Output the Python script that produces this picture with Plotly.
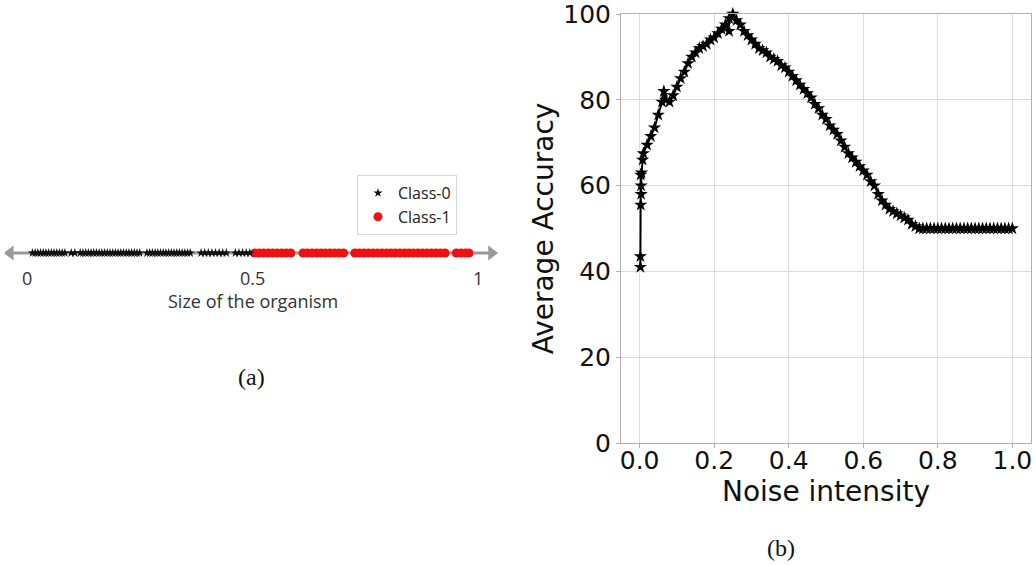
import plotly.graph_objects as go

# ---------------- data ----------------
# Panel (a): 1-D samples on the "size of the organism" axis
class0_size = [0.012, 0.018, 0.024, 0.03, 0.036, 0.042, 0.048, 0.054, 0.06, 0.066,
               0.072, 0.078, 0.084, 0.098, 0.106, 0.118, 0.124, 0.13, 0.136, 0.142,
               0.148, 0.154, 0.16, 0.166, 0.172, 0.178, 0.184, 0.19, 0.196, 0.202,
               0.208, 0.214, 0.22, 0.226, 0.232, 0.238, 0.244, 0.25,
               0.266, 0.272, 0.278, 0.284, 0.29, 0.296, 0.302, 0.308, 0.314, 0.32,
               0.326, 0.332, 0.338, 0.344, 0.35, 0.356, 0.362,
               0.386, 0.394, 0.402, 0.41, 0.418, 0.426, 0.434, 0.442,
               0.462, 0.47, 0.478, 0.486, 0.494]
class1_size = [0.505, 0.515, 0.525, 0.535, 0.545, 0.555, 0.565, 0.575, 0.585,
               0.612, 0.622, 0.632, 0.642, 0.652, 0.662, 0.672, 0.682, 0.692, 0.702,
               0.727, 0.737, 0.747, 0.757, 0.767, 0.777, 0.787, 0.797, 0.807, 0.817,
               0.827, 0.837, 0.847, 0.857, 0.867, 0.877, 0.887, 0.897, 0.907, 0.917,
               0.927, 0.952, 0.962, 0.972, 0.98]
axis_a_ticks = [0, 0.5, 1]
axis_a_ticklabels = ["0", "0.5", "1"]

# Panel (b): noise intensity vs average accuracy
noise = [0.002, 0.002, 0.003, 0.003, 0.004, 0.004, 0.005, 0.008,
         0.01, 0.02, 0.03, 0.04, 0.05, 0.06, 0.065, 0.07, 0.08, 0.09,
         0.10, 0.11, 0.12, 0.13, 0.14, 0.15, 0.16, 0.17, 0.18, 0.19,
         0.20, 0.21, 0.22, 0.23, 0.24, 0.24, 0.25, 0.26, 0.27, 0.28, 0.29,
         0.30, 0.31, 0.32, 0.33, 0.34, 0.35, 0.36, 0.37, 0.38, 0.39,
         0.40, 0.41, 0.42, 0.43, 0.44, 0.45, 0.46, 0.47, 0.48, 0.49,
         0.50, 0.51, 0.52, 0.53, 0.54, 0.55, 0.56, 0.57, 0.58, 0.59,
         0.60, 0.61, 0.62, 0.63, 0.64, 0.65, 0.66, 0.67, 0.68, 0.69,
         0.70, 0.71, 0.72, 0.73, 0.74, 0.75, 0.76, 0.77, 0.78, 0.79,
         0.80, 0.81, 0.82, 0.83, 0.84, 0.85, 0.86, 0.87, 0.88, 0.89,
         0.90, 0.91, 0.92, 0.93, 0.94, 0.95, 0.96, 0.97, 0.98, 0.99, 1.00]
accuracy = [41.0, 43.5, 62.5, 55.5, 58.0, 60.0, 63.0, 66.0,
            67.5, 69.5, 71.5, 73.5, 76.5, 79.5, 82.0, 80.0, 79.5, 81.0,
            83.0, 85.0, 86.5, 88.5, 90.0, 91.0, 92.0, 92.5, 93.0, 94.0,
            94.5, 95.5, 96.5, 97.5, 96.0, 99.0, 100.0, 98.5, 97.5, 96.0, 95.0,
            94.0, 93.0, 92.0, 91.5, 91.0, 90.0, 89.5, 89.0, 88.0, 87.5,
            86.5, 85.5, 84.5, 83.5, 82.5, 81.5, 80.5, 79.0, 78.0, 76.5,
            75.5, 74.0, 73.0, 72.0, 70.5, 69.0, 67.5, 66.5, 65.5, 64.5,
            63.5, 62.5, 61.0, 60.0, 58.0, 56.5, 55.5, 54.5, 54.0, 53.5,
            53.0, 52.5, 52.0, 51.0, 50.5, 50.0, 50.0, 50.0, 50.0, 50.0,
            50.0, 50.0, 50.0, 50.0, 50.0, 50.0, 50.0, 50.0, 50.0, 50.0,
            50.0, 50.0, 50.0, 50.0, 50.0, 50.0, 50.0, 50.0, 50.0, 50.0, 50.0]
b_xticks = [0.0, 0.2, 0.4, 0.6, 0.8, 1.0]
b_yticks = [0, 20, 40, 60, 80, 100]

# ---------------- figure ----------------
W, H = 1036, 565
def px(x): return x / W
def py(y): return 1 - y / H

fig = go.Figure()

# panel (a) arrow axis
arrow_ends = [-0.037, 1.03]
fig.add_trace(go.Scatter(x=arrow_ends, y=[0, 0], mode="lines",
                         line=dict(color="#9a9a9a", width=3),
                         xaxis="x2", yaxis="y2", showlegend=False, hoverinfo="skip"))
fig.add_trace(go.Scatter(x=arrow_ends, y=[0, 0], mode="markers",
                         marker=dict(symbol=["triangle-left", "triangle-right"], size=13,
                                     color="#9a9a9a"),
                         xaxis="x2", yaxis="y2", showlegend=False, hoverinfo="skip"))
fig.add_trace(go.Scatter(x=class1_size, y=[0] * len(class1_size), mode="markers",
                         marker=dict(symbol="circle", size=9, color="#ee1111"),
                         name="Class-1", xaxis="x2", yaxis="y2", legendrank=2))
fig.add_trace(go.Scatter(x=class0_size, y=[0] * len(class0_size), mode="markers",
                         marker=dict(symbol="star", size=7, color="#111111"),
                         name="Class-0", xaxis="x2", yaxis="y2", legendrank=1))

# panel (b)
fig.add_trace(go.Scatter(x=noise, y=accuracy, mode="lines+markers",
                         line=dict(color="black", width=2),
                         marker=dict(symbol="star", size=10, color="black"),
                         showlegend=False, xaxis="x", yaxis="y", cliponaxis=False))

fig.update_layout(
    width=W, height=H,
    margin=dict(l=0, r=0, t=0, b=0),
    paper_bgcolor="white", plot_bgcolor="white",
    font=dict(family="DejaVu Sans", color="#111"),
    xaxis=dict(domain=[px(621), px(1031)], range=[-0.05, 1.05], automargin=False,
               tickvals=b_xticks, ticktext=[f"{v:.1f}" for v in b_xticks],
               tickfont=dict(size=25, color="#111"), ticklabeloverflow="allow",
               ticklabelstandoff=-9,
               showgrid=True, gridcolor="#dcdcdc", gridwidth=1,
               showline=True, linecolor="#b0b0b0", linewidth=1, mirror=True,
               ticks="outside", ticklen=4, tickcolor="#b0b0b0",
               zeroline=False, anchor="y",
               title=dict(text="Noise intensity", font=dict(size=28, color="#111"),
                          standoff=0)),
    yaxis=dict(domain=[py(443), py(14)], range=[0, 100], automargin=False,
               tickvals=b_yticks, ticklabeloverflow="allow",
               tickfont=dict(size=25, color="#111"),
               showgrid=True, gridcolor="#dcdcdc", gridwidth=1,
               showline=True, linecolor="#b0b0b0", linewidth=1, mirror=True,
               ticks="outside", ticklen=4, tickcolor="#b0b0b0",
               zeroline=False, anchor="x",
               title=dict(text="Average Accuracy", font=dict(size=28, color="#111"),
                          standoff=1)),
    xaxis2=dict(domain=[px(5), px(500)], range=[(5 - 27) / 451, (500 - 27) / 451],
                visible=False, anchor="y2", automargin=False),
    yaxis2=dict(domain=[py(273), py(233)], range=[-1, 1], visible=False, anchor="x2",
                automargin=False),
    legend=dict(x=px(357), y=py(175), xanchor="left", yanchor="top",
                bordercolor="#d8d8d8", borderwidth=1, bgcolor="white",
                font=dict(family="Open Sans", size=16, color="#222"),
                tracegroupgap=2, itemwidth=30),
)

annotations = []
for v, t in zip(axis_a_ticks, axis_a_ticklabels):
    annotations.append(dict(x=v, y=0, xref="x2", yref="y2", text=t, showarrow=False,
                            yshift=-25, font=dict(family="Open Sans", size=18, color="#333")))
annotations.append(dict(x=0.5, y=0, xref="x2", yref="y2", text="Size of the organism",
                        showarrow=False, yshift=-48,
                        font=dict(family="Open Sans", size=18, color="#333")))
annotations.append(dict(x=px(251), y=py(377), xref="paper", yref="paper", text="(a)",
                        xanchor="center", yanchor="middle", showarrow=False,
                        font=dict(family="Liberation Serif", size=24, color="#111")))
annotations.append(dict(x=px(781), y=py(548), xref="paper", yref="paper", text="(b)",
                        xanchor="center", yanchor="middle", showarrow=False,
                        font=dict(family="Liberation Serif", size=24, color="#111")))
fig.update_layout(annotations=annotations)

fig.write_html("out.html")
